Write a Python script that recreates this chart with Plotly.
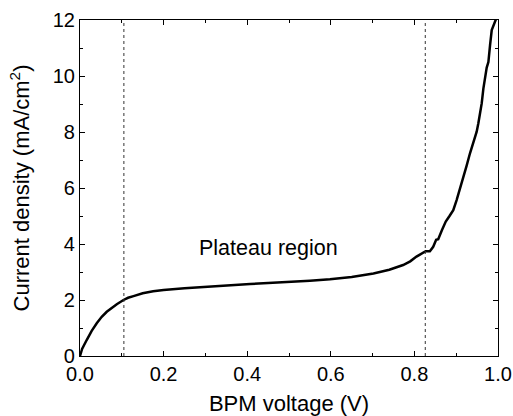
import plotly.graph_objects as go

voltage = [0.0, 0.005, 0.016, 0.028, 0.04, 0.052, 0.064, 0.076, 0.088, 0.104, 0.115, 0.128, 0.15, 0.175,
           0.2, 0.25, 0.3, 0.35, 0.407, 0.45, 0.5, 0.55, 0.598, 0.65, 0.702, 0.74, 0.773, 0.79,
           0.805, 0.818, 0.827, 0.837, 0.845, 0.852, 0.857, 0.866, 0.875, 0.884, 0.893, 0.901,
           0.909, 0.917, 0.925, 0.933, 0.941, 0.949, 0.953, 0.957, 0.961, 0.965, 0.969, 0.973,
           0.977, 0.979, 0.981, 0.985, 0.989, 0.993, 0.997]
current = [0.0, 0.25, 0.57, 0.9, 1.17, 1.4, 1.58, 1.73, 1.85, 2.0, 2.08, 2.14, 2.24, 2.31,
           2.36, 2.42, 2.46, 2.51, 2.57, 2.61, 2.64, 2.69, 2.74, 2.82, 2.95, 3.08, 3.25, 3.38,
           3.55, 3.68, 3.74, 3.74, 3.9, 4.15, 4.17, 4.5, 4.8, 5.0, 5.21, 5.57,
           5.95, 6.4, 6.8, 7.24, 7.6, 8.01, 8.31, 8.6, 9.02, 9.55, 9.98, 10.3,
           10.5, 10.9, 11.1, 11.64, 11.8, 12.0, 12.1]

dotted_x = [0.105, 0.826]
x_ticks = [0.0, 0.2, 0.4, 0.6, 0.8, 1.0]
y_ticks = [0, 2, 4, 6, 8, 10, 12]
annotation_text = "Plateau region"
annotation_pos = (0.452, 3.86)

FONT = "Liberation Sans, Arial, sans-serif"

fig = go.Figure()
fig.add_trace(go.Scatter(x=voltage, y=current, mode="lines",
                         line=dict(color="black", width=2.5), showlegend=False))
for xv in dotted_x:
    fig.add_shape(type="line", x0=xv, x1=xv, y0=0, y1=12, xref="x", yref="y",
                  line=dict(color="#333333", width=1, dash="dot"))
fig.add_annotation(x=annotation_pos[0], y=annotation_pos[1], text=annotation_text,
                   showarrow=False, font=dict(size=21.5, color="black", family=FONT))

axis_common = dict(showgrid=False, zeroline=False, showline=True, linecolor="black", linewidth=1.2,
                   mirror="ticks", ticks="inside", ticklen=5, tickcolor="black", tickwidth=1,
                   automargin=False,
                   tickfont=dict(size=20, color="black", family=FONT))
fig.update_xaxes(range=[0, 1.0], tickvals=x_ticks, tickformat=".1f",
                 minor=dict(dtick=0.1, ticks="inside", ticklen=3, tickcolor="black"),
                 title=dict(text="BPM voltage (V)", font=dict(size=22, color="black", family=FONT), standoff=12),
                 **axis_common)
fig.update_yaxes(range=[0, 12], tickvals=y_ticks,
                 minor=dict(dtick=1, ticks="inside", ticklen=3, tickcolor="black"),
                 title=dict(text="Current density (mA/cm<sup>2</sup>)", font=dict(size=22, color="black", family=FONT), standoff=16),
                 **axis_common)
fig.update_layout(width=513, height=416, margin=dict(l=80, r=15, t=20, b=60),
                  plot_bgcolor="white", paper_bgcolor="white")
fig.write_html("out.html", config={"displayModeBar": False},
               post_script="document.body.style.margin='0';document.body.style.overflow='hidden';")
